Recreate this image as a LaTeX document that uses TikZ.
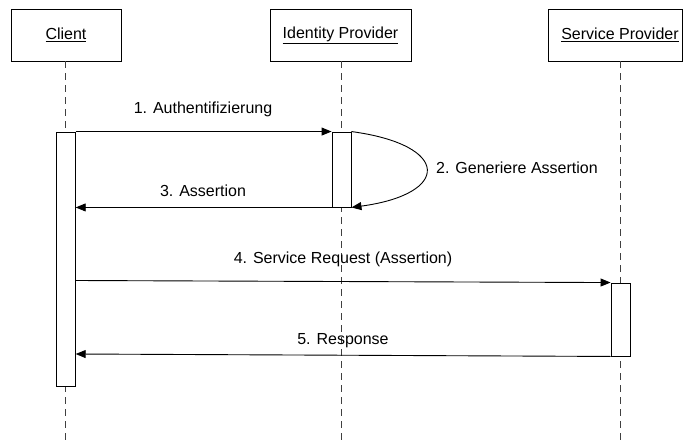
\documentclass[tikz,border=0pt]{standalone}
\usepackage{fontspec}
\setmainfont{Liberation Sans}
\usetikzlibrary{arrows.meta,calc}
\begin{document}
\begin{tikzpicture}[x=1pt,y=-1pt,
  every node/.style={font=\fontsize{16}{19}\selectfont},
  actor/.style={draw, line width=0.9pt, minimum height=52pt, inner sep=0pt},
  act/.style={draw, fill=white, line width=0.9pt, minimum width=19pt, inner sep=0pt},
  life/.style={draw=black!75, line width=0.8pt, dash pattern=on 7pt off 5pt},
  msg/.style={draw, line width=0.9pt, -{Triangle[length=10pt,width=8pt]}},
  lbl/.style={inner sep=0pt}]
\useasboundingbox (0,0) rectangle (683,444);
% actors
\node[actor, minimum width=110pt] (client) at (66,35) {\underline{Client}};
\node[actor, minimum width=141pt] (idp) at (340.5,35) {\underline{Identity Provider}};
\node[actor, minimum width=134pt] (sp) at (615,35) {\hspace*{10pt}\underline{Service Provider}};
% activation boxes (positions)
\path (65.75,259) coordinate (cac) (341.5,169.5) coordinate (iac) (620.5,319.5) coordinate (sac);
% lifelines
\coordinate (cend) at (65.75,444);
\coordinate (iend) at (341.5,444);
\coordinate (send) at (620.5,444);
\draw[life] (client.south -| cac) -- (cend);
\draw[life] (idp.south -| iac) -- (iend);
\draw[life] (sp.south -| sac) -- (send);
% activations
\node[act, minimum height=254pt] (ca) at (cac) {};
\node[act, minimum height=75pt] (ia) at (iac) {};
\node[act, minimum height=73pt] (sa) at (sac) {};
% messages
\draw[msg] (ca.north east) -- (ia.north west);
\node[lbl] (l1) at (203,109) {1. Authentifizierung};
\draw[msg] (ia.north east) .. controls (451,145) and (451,194) .. (ia.south east);
\node[lbl, anchor=west] (l2) at (436,168) {2. Generiere Assertion};
\draw[msg] (ia.south west) -- (ca.east |- ia.south);
\node[lbl] (l3) at (203,191) {3. Assertion};
\draw[msg] ($(ca.east)+(0,21.5)$) -- (sa.north west);
\node[lbl] (l4) at (343,259) {4. Service Request (Assertion)};
\draw[msg] (sa.south west) -- ($(ca.east)+(0,95)$);
\node[lbl] (l5) at (343,341) {5. Response};
\end{tikzpicture}
\end{document}
